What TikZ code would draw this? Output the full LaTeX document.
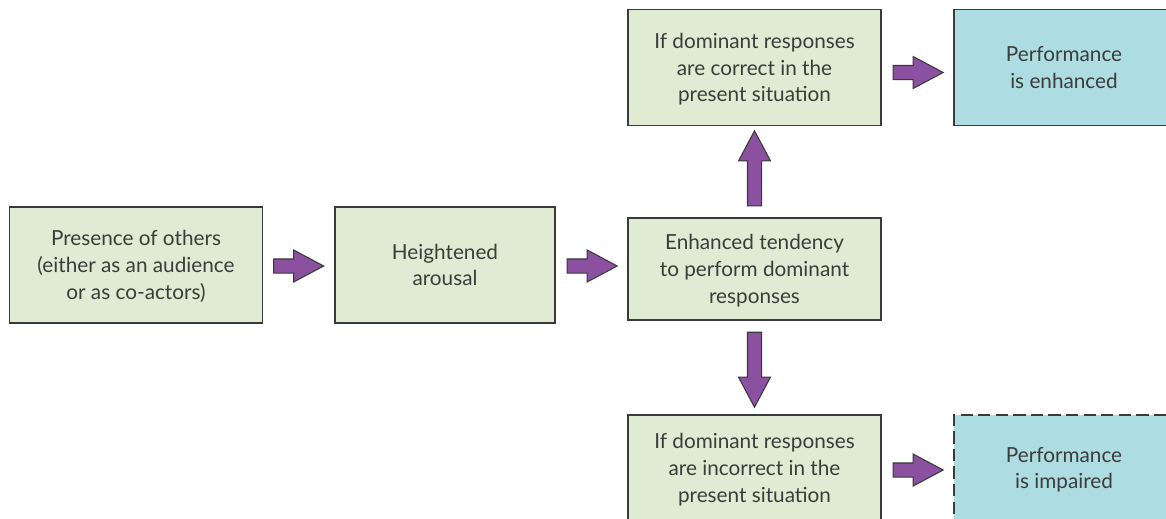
\documentclass[tikz,border=0pt]{standalone}
\usepackage{fontspec}
\setmainfont{Lato}
\usetikzlibrary{shapes.arrows}
\usetikzlibrary{calc}

\definecolor{boxgreen}{HTML}{DFEBD2}
\definecolor{boxcyan}{HTML}{ADDDE2}
\definecolor{arrowpurple}{HTML}{8B509F}
\definecolor{edgegray}{HTML}{3A3A3A}
\definecolor{textgray}{HTML}{3C3C3C}

\begin{document}
\begin{tikzpicture}[x=0.02cm, y=-0.02cm,
  every node/.style={font=\fontsize{11.8}{15.2}\selectfont, text=textgray, align=center, inner sep=0pt},
  box/.style={draw=edgegray, line width=0.8pt, fill=boxgreen, minimum width=5.06cm, minimum height=2.32cm, text depth=-2pt},
  outbox/.style={box, fill=boxcyan, minimum width=4.4cm},
  bigarrow/.style={single arrow, draw=edgegray, line width=0.6pt, fill=arrowpurple, inner sep=0.13cm, minimum height=1cm, single arrow head extend=0.18cm, single arrow tip angle=56, anchor=tail}]

        % Frame of the picture
        \useasboundingbox (0,0) rectangle (1166,518);
        \clip (0,0) rectangle (1166,518);

        % Chain from the left
        \node[box] (pres) at (136,265) {Presence of others\\(either as an audience\\or as co-actors)};
        \node[box, minimum width=4.4cm] (arousal) at (445,265) {Heightened\\arousal};
        \node[box, minimum height=2.04cm] (tend) at (754.5,269) {Enhanced tendency\\to perform dominant\\responses};

        % Two outcomes
        \node[box] (corr) at (754.5,67.5) {If dominant responses\\are correct in the\\present situation};
        \node[outbox] (enh) at (1064,67.5) {Performance\\is enhanced};
        \node[box, minimum height=2.12cm] (incorr) at (754.5,468) {If dominant responses\\are incorrect in the\\present situation};
        \node[outbox, minimum height=2.12cm, dash pattern=on 7pt off 3pt] (imp) at (1064,468) {Performance\\is impaired};

        % Block arrows, tail a little off the box they leave
        \node[bigarrow] (a1) at ($(pres.east)+(10,1)$) {};
        \node[bigarrow] (a2) at ($(arousal.east)+(11,1)$) {};
        \node[bigarrow, minimum height=1.5cm, rotate=90] (a3) at ($(tend.north)+(0,-11)$) {};
        \node[bigarrow, minimum height=1.5cm, rotate=-90] (a4) at ($(tend.south)+(0,11)$) {};
        \node[bigarrow] (a5) at ($(corr.east)+(11,5)$) {};
        \node[bigarrow] (a6) at ($(incorr.east)+(11,2)$) {};

      \end{tikzpicture}
\end{document}
